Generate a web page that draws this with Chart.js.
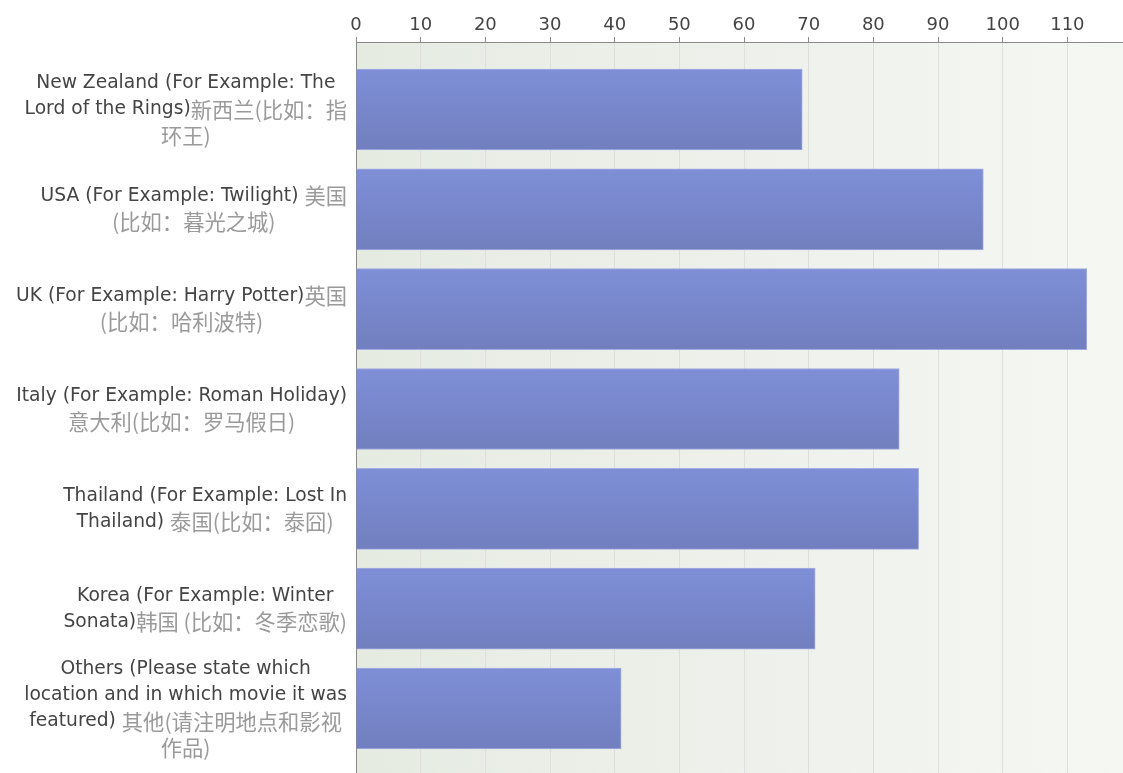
<!DOCTYPE html>
<html>
<head>
<meta charset="utf-8">
<script src="https://cdn.jsdelivr.net/npm/chart.js@4"></script>
<style>
html,body{margin:0;padding:0;background:#fff;}
#wrap{width:1123px;height:773px;position:relative;}
</style>
</head>
<body>
<div id="wrap"><canvas id="c"></canvas></div>
<script>
// ---- data ----
const categories = [
  ["New Zealand (For Example: The", "Lord of the Rings)新西兰(比如：指", "环王)"],
  ["USA (For Example: Twilight) 美国", "(比如：暮光之城)"],
  ["UK (For Example: Harry Potter)英国", "(比如：哈利波特)"],
  ["Italy (For Example: Roman Holiday)", "意大利(比如：罗马假日)"],
  ["Thailand (For Example: Lost In", "Thailand) 泰国(比如：泰囧)"],
  ["Korea (For Example: Winter", "Sonata)韩国 (比如：冬季恋歌)"],
  ["Others (Please state which", "location and in which movie it was", "featured) 其他(请注明地点和影视", "作品)"]
];
const values = [69, 97, 113, 84, 87, 71, 41];
const xTicks = [0, 10, 20, 30, 40, 50, 60, 70, 80, 90, 100, 110];

const EN_FONT = '18.7px "DejaVu Sans"';
const ZH_FONT = '21.3px "Noto Sans CJK SC"';
const CJK = /[\u3000-\u303f\u4e00-\u9fff\uff00-\uffef]/;

const bgPlugin = {
  id: 'bg',
  beforeDraw(chart) {
    const {ctx, chartArea: a} = chart;
    const g = ctx.createLinearGradient(a.left, 0, a.right, 0);
    g.addColorStop(0, '#e6ebe2');
    g.addColorStop(1, '#f5f7f3');
    ctx.save();
    ctx.fillStyle = g;
    ctx.fillRect(a.left, a.top, a.right - a.left, a.bottom - a.top);
    ctx.restore();
  }
};

const labelPlugin = {
  id: 'catLabels',
  afterDraw(chart) {
    const {ctx} = chart;
    const ys = chart.scales.y;
    const xRight = 347;
    const lh = 26;
    ctx.save();
    ctx.textBaseline = 'middle';
    ctx.textAlign = 'left';
    categories.forEach((lines, i) => {
      const cy = ys.getPixelForValue(i);
      let gray = false;
      const laid = lines.map(line => {
        const runs = [];
        let cur = '';
        for (const ch of line) {
          if (!gray && CJK.test(ch)) {
            if (cur) runs.push({t: cur, g: false});
            cur = ''; gray = true;
          }
          cur += ch;
        }
        if (cur) runs.push({t: cur, g: gray});
        let total = 0;
        runs.forEach(r => { ctx.font = r.g ? ZH_FONT : EN_FONT; r.w = ctx.measureText(r.t).width; total += r.w; });
        return {runs, total};
      });
      const maxW = Math.max(...laid.map(l => l.total));
      const cx = xRight - maxW / 2;
      laid.forEach((l, j) => {
        const y = cy + (j - (lines.length - 1) / 2) * lh;
        let x = cx - l.total / 2;
        l.runs.forEach(r => {
          ctx.font = r.g ? ZH_FONT : EN_FONT;
          ctx.fillStyle = r.g ? '#9a9a9a' : '#444444';
          ctx.fillText(r.t, x, y);
          x += r.w;
        });
      });
    });
    ctx.restore();
  }
};

const ctx = document.getElementById('c').getContext('2d');
new Chart(ctx, {
  type: 'bar',
  data: {
    datasets: [{
      data: values.map((v, i) => ({x: v, y: i})),
      barThickness: 81,
      borderWidth: 1,
      borderColor: '#a3abe2',
      backgroundColor(context) {
        const chart = context.chart;
        const ys = chart.scales && chart.scales.y;
        if (!ys || !chart.chartArea || context.dataIndex === undefined) return '#7986cb';
        const cy = ys.getPixelForValue(context.dataIndex);
        const g = chart.ctx.createLinearGradient(0, cy - 40, 0, cy + 40);
        g.addColorStop(0, '#7f8fd7');
        g.addColorStop(1, '#717fbf');
        return g;
      }
    }]
  },
  options: {
    indexAxis: 'y',
    responsive: true,
    maintainAspectRatio: false,
    animation: false,
    layout: {padding: 0},
    plugins: {legend: {display: false}, tooltip: {enabled: false}},
    scales: {
      x: {
        type: 'linear',
        position: 'top',
        min: 0,
        max: 118.6,
        afterBuildTicks(scale) {
          scale.ticks = xTicks.map(v => ({value: v}));
        },
        afterFit(scale) { scale.height = 42; },
        ticks: {
          color: '#444444',
          font: {family: 'DejaVu Sans', size: 18},
          padding: 1,
          maxRotation: 0,
          autoSkip: false
        },
        grid: {
          color: '#dedede',
          tickColor: '#8a8a8a',
          tickLength: 5,
          lineWidth: 1
        },
        border: {display: true, color: '#8a8a8a', width: 1}
      },
      y: {
        type: 'linear',
        reverse: true,
        offset: false,
        min: -0.676,
        max: 6.646,
        afterFit(scale) { scale.width = 356; },
        ticks: {display: false},
        grid: {display: false, offset: false},
        border: {display: true, color: '#8a8a8a', width: 1}
      }
    }
  },
  plugins: [bgPlugin, labelPlugin]
});
</script>
</body>
</html>
